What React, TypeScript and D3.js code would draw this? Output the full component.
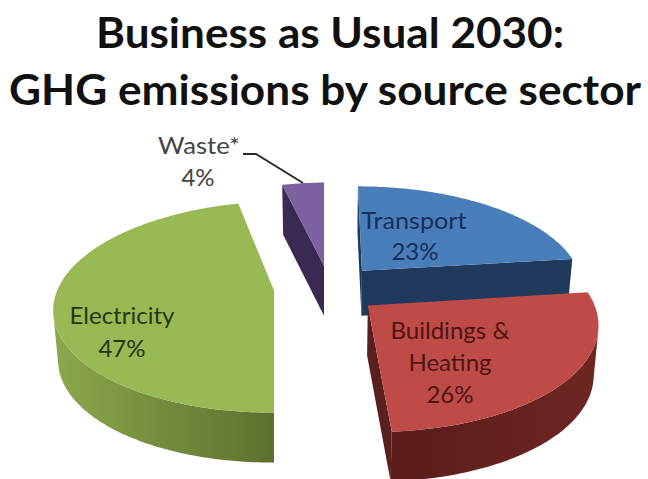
import React from "react";
import * as d3 from "d3";

// Sector shares of 2030 emissions, in percent, clockwise from twelve o'clock.
const sectors = ["Transport", "Buildings & Heating", "Electricity", "Waste*"];
const shares = [23, 26, 47, 4];
const topColors = ["#4a7ebb", "#be4b48", "#98b954", "#7d60a0"];
const wallColors = ["#1f3a5c", "#59201d", "#66792f", "#3a2952"];
const rimStops = [
  ["#1f3a5c", "#1f3a5c"],
  ["#5a1c1a", "#6e2623"],
  ["#8ca84c", "#5d702e"],
  ["#3a2952", "#3a2952"],
];
const drawOrder = [3, 0, 2, 1];
const titleLines = ["Business as Usual 2030:", "GHG emissions by source sector"];

const W = 648;
const H = 479;
const CX = 325;
const CY = 285;
const R = 222;
const TILT = 0.46;
const PERSPECTIVE = 0.154;
const BASE_SHRINK = 0.982;
const EXPLODE = 48;

// Per-slice screen adjustments for the exploded layout; the inner edges of the
// two left-hand slices are cut square.
const shiftX = [6, 5, 3, 9];
const shiftY = [2, 6, 2, 2];
const thickness = [45, 50, 50, 50];
const rightLimit = [Infinity, Infinity, 274, 324];

type Pt = [number, number];

const toGround = (a: number, r: number, ox: number, oy: number): Pt => [
  ox + r * Math.sin(a),
  oy - r * Math.cos(a),
];

const project = ([u, v]: Pt, lower: boolean, i: number): Pt => {
  const s = 1 / (1 - (PERSPECTIVE * v) / R);
  const shrink = lower ? BASE_SHRINK : 1;
  return [
    Math.min(CX + u * s * shrink + shiftX[i], rightLimit[i]),
    CY + v * TILT * s + (lower ? thickness[i] : 0) + shiftY[i],
  ];
};

const ring = d3.line<Pt>().x((d) => d[0]).y((d) => d[1]);
const closed = (pts: Pt[]) => ring(pts) + "Z";

const signedArea = (pts: Pt[]) =>
  d3.sum(pts, (p, i) => {
    const q = pts[(i + 1) % pts.length];
    return p[0] * q[1] - q[0] * p[1];
  });

const pieAngles = d3.pie<number>().sort(null).startAngle(0).endAngle(2 * Math.PI)(shares);

const slices = pieAngles.map((d, i) => {
  const mid = (d.startAngle + d.endAngle) / 2;
  const [ox, oy] = toGround(mid, EXPLODE, 0, 0);
  const steps = Math.max(8, Math.round(((d.endAngle - d.startAngle) * 180) / Math.PI));
  const angles = d3.range(steps + 1).map((k) => d.startAngle + ((d.endAngle - d.startAngle) * k) / steps);
  const rim = angles.map((a) => toGround(a, R, ox, oy));
  const apex: Pt = [ox, oy];
  const at = (g: Pt, lower: boolean) => project(g, lower, i);

  const top = closed([at(apex, false), ...rim.map((g) => at(g, false))]);

  const walls: string[] = [];
  const startWall = [at(apex, false), at(rim[0], false), at(rim[0], true), at(apex, true)];
  const last = rim[rim.length - 1];
  const endWall = [at(last, false), at(apex, false), at(apex, true), at(last, true)];
  if (signedArea(startWall) < 0) walls.push(closed(startWall));
  if (signedArea(endWall) < 0) walls.push(closed(endWall));

  // Only the part of the rim that faces the viewer gets a side band.
  const facing = d3.range(rim.length - 1).filter((k) => {
    const quad = [at(rim[k], false), at(rim[k + 1], false), at(rim[k + 1], true), at(rim[k], true)];
    return signedArea(quad) < 0;
  });
  let band: string | null = null;
  let xSpan: Pt = [0, 1];
  if (facing.length) {
    const seg = rim.slice(facing[0], facing[facing.length - 1] + 2);
    const upper = seg.map((g) => at(g, false));
    const lower = seg.map((g) => at(g, true)).reverse();
    band = closed([...upper, ...lower]);
    xSpan = d3.extent(upper, (p) => p[0]) as Pt;
  }
  return { i, top, walls, band, xSpan };
});

export default function App() {
  return (
    <svg
      width={W}
      height={H}
      viewBox={`0 0 ${W} ${H}`}
      style={{ position: "absolute", left: 0, top: 0, background: "#fff" }}
    >
      <defs>
        {slices.map((s) => (
          <linearGradient
            key={s.i}
            id={`rim-${s.i}`}
            gradientUnits="userSpaceOnUse"
            x1={s.xSpan[0]}
            x2={s.xSpan[1]}
            y1={0}
            y2={0}
          >
            <stop offset="0" stopColor={rimStops[s.i][0]} />
            <stop offset="1" stopColor={rimStops[s.i][1]} />
          </linearGradient>
        ))}
      </defs>

      <g fontFamily="Lato, sans-serif" fontWeight={700} fontSize={42} fill="#111" textAnchor="middle">
        <text x={330} y={48} textLength={468} lengthAdjust="spacingAndGlyphs">{titleLines[0]}</text>
        <text x={325} y={105} textLength={632} lengthAdjust="spacingAndGlyphs">{titleLines[1]}</text>
      </g>

      {drawOrder.map((idx) => {
        const s = slices[idx];
        return (
          <g key={idx}>
            {s.walls.map((w, k) => (
              <path key={k} d={w} fill={wallColors[idx]} />
            ))}
            {s.band && <path d={s.band} fill={`url(#rim-${idx})`} />}
            <path d={s.top} fill={topColors[idx]} />
          </g>
        );
      })}

      <path d="M243 154H256L303 183" fill="none" stroke="#2b2b2b" strokeWidth={2} />

      <g fontFamily="Lato, sans-serif" fontSize={24} textAnchor="middle">
        <g fill="#14305a">
          <text x={414} y={229} textLength={105} lengthAdjust="spacingAndGlyphs">Transport</text>
          <text x={415} y={260}>{shares[0]}%</text>
        </g>
        <g fill="#4e1512">
          <text x={450} y={339} textLength={119} lengthAdjust="spacingAndGlyphs">Buildings &amp;</text>
          <text x={450} y={371}>Heating</text>
          <text x={450} y={403}>{shares[1]}%</text>
        </g>
        <g fill="#26370f">
          <text x={122} y={324} textLength={105} lengthAdjust="spacingAndGlyphs">Electricity</text>
          <text x={122} y={357}>{shares[2]}%</text>
        </g>
        <g fill="#444">
          <text x={199} y={154} textLength={82} lengthAdjust="spacingAndGlyphs">Waste*</text>
          <text x={198} y={186}>{shares[3]}%</text>
        </g>
      </g>
    </svg>
  );
}
